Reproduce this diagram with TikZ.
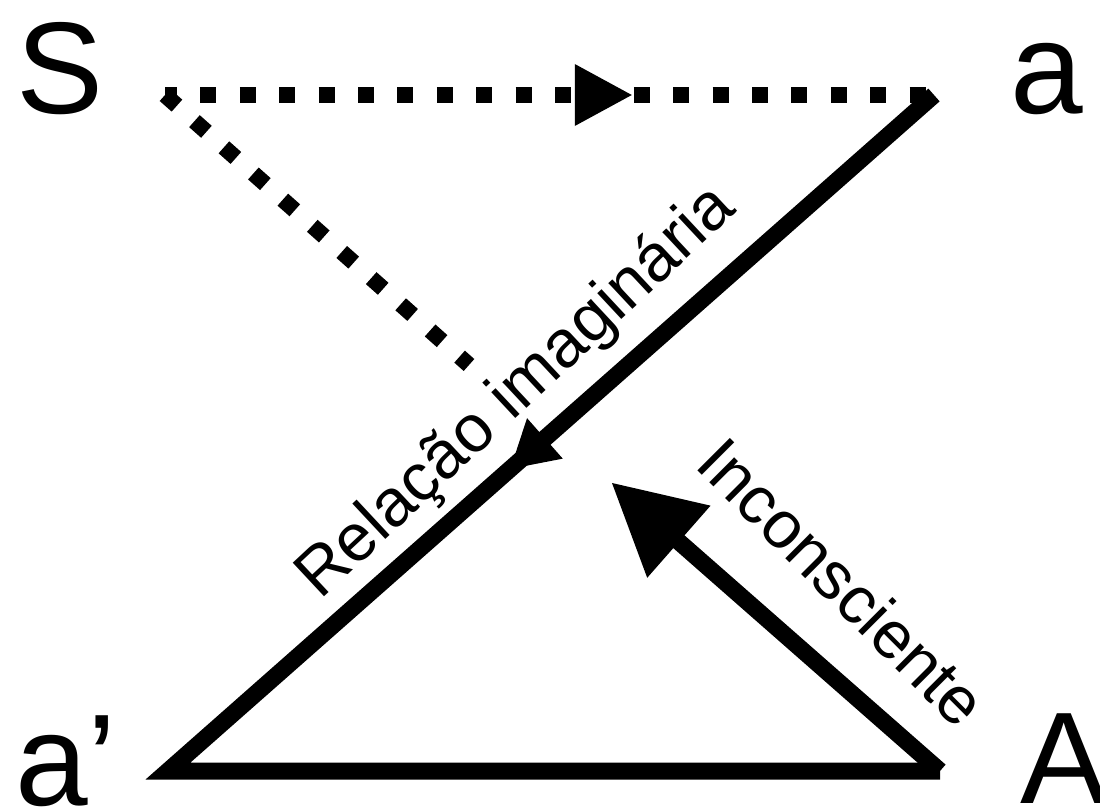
\documentclass[tikz,border=0pt]{standalone}
\usepackage{fontspec}
\setmainfont{Liberation Sans}
\usetikzlibrary{calc}
\begin{document}
\begin{tikzpicture}[x=1bp,y=-1bp,
  big/.style={inner sep=0pt, anchor=base west, font=\fontsize{131}{131}\selectfont},
  lbl/.style={inner sep=0pt, anchor=base west, font=\fontsize{67}{67}\selectfont},
  solidline/.style={line width=17bp, line cap=butt, draw=black},
  dotline/.style={line width=16bp, line cap=butt, draw=black, dash pattern=on 16bp off 23.4bp},
  head/.style={fill=black, draw=none}]
\useasboundingbox (0,0) rectangle (1100,810);
% corner points
\coordinate (S) at (165,95);
\coordinate (a) at (934,95);
\coordinate (ap) at (168,771);
\coordinate (A) at (940,771);
\coordinate (D) at (469,365);
\coordinate (I) at (612,483);
% letters
\node[big] (Sl) at (16,113) {S};
\node[big] (al) at (1010,113) {a};
\node[big] (apl) at (15,805) {a’};
\node[big] (Al) at (1020,803) {A};
% dotted lines
\draw[dotline, dash phase=4bp] (S) -- (a);
\draw[dotline] (S) -- (D);
% top arrow head
\coordinate (T1) at ($(S)!0.607!(a)$);
\coordinate (B1) at ($(T1)!57bp!(S)$);
\fill[head] (T1) -- ($(B1)!31bp!90:(T1)$) -- ($(B1)!31bp!-90:(T1)$) -- cycle;
% solid lines
\draw[solidline, line join=miter] (a) -- (ap) -- (A);
\coordinate (T2) at ($(a)!0.553!(ap)$);
\coordinate (B2) at ($(T2)!46bp!(a)$);
\fill[head] (T2) -- ($(B2)!27bp!90:(T2)$) -- ($(B2)!27bp!-90:(T2)$) -- cycle;
\coordinate (B3) at ($(I)!89bp!(A)$);
\draw[solidline] (A) -- ($(I)!60bp!(A)$);
\fill[head] (I) -- ($(B3)!48bp!90:(I)$) -- ($(B3)!48bp!-90:(I)$) -- cycle;
% labels
\node[lbl, rotate=43] (rel) at (320,601) {Relação imaginária};
\node[lbl, rotate=-45] (inc) at (693,466) {Inconsciente};
\end{tikzpicture}
\end{document}
